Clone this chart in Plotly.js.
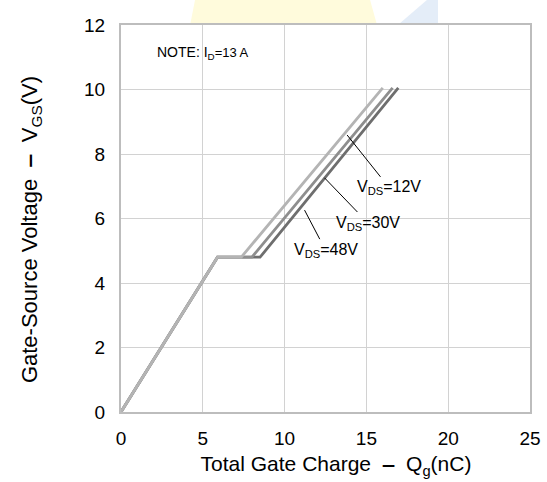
<!DOCTYPE html>
<html>
<head>
<meta charset="utf-8">
<script src="https://cdn.plot.ly/plotly-3.0.1.min.js"></script>
<style>html,body{margin:0;padding:0;background:#fff;}#chart{width:547px;height:482px;}</style>
</head>
<body>
<div id="chart"></div>
<script>
// Gate charge curves (Qg in nC, VGS in V)
const seriesNames = ["V<sub>DS</sub>=48V", "V<sub>DS</sub>=30V", "V<sub>DS</sub>=12V"];
const qg48 = [0, 5.9, 8.5, 16.95];
const vgs48 = [0, 4.8, 4.8, 10.05];
const qg30 = [0, 5.9, 8.0, 16.6];
const vgs30 = [0, 4.8, 4.8, 10.05];
const qg12 = [0, 5.9, 7.35, 16.0];
const vgs12 = [0, 4.8, 4.8, 10.05];
const lineColors = ["#6e6e6e", "#8e8e8e", "#b4b4b4"];

// label anchor points on curves and text positions (data units)
const labelTipX = [11.22, 12.44, 13.82];
const labelTipY = [6.26, 7.26, 8.59];
const labelTextX = [12.5, 15.1, 16.4];
const labelTextY = [5.02, 5.86, 6.95];

const xTicks = [0, 5, 10, 15, 20, 25];
const yTicks = [0, 2, 4, 6, 8, 10, 12];

const xs = [qg48, qg30, qg12];
const ys = [vgs48, vgs30, vgs12];
const traces = xs.map((x, i) => ({
  x: x, y: ys[i], type: "scatter", mode: "lines",
  line: {color: lineColors[i], width: 2.8},
  name: seriesNames[i], hoverinfo: "skip"
}));

const font = "Liberation Sans, Arial, sans-serif";
const annotations = seriesNames.map((t, i) => ({
  x: labelTipX[i], y: labelTipY[i], xref: "x", yref: "y",
  ax: labelTextX[i], ay: labelTextY[i], axref: "x", ayref: "y",
  text: t, showarrow: true, arrowhead: 0, arrowwidth: 1, arrowcolor: "#000",
  standoff: 0, startstandoff: 0,
  font: {family: font, size: 16, color: "#000"}
}));
annotations.push({
  x: 2.05, y: 11.13, xref: "x", yref: "y", xanchor: "left", yanchor: "middle",
  text: "NOTE: I<sub>D</sub><span style=\"font-size:13px\">=13 A</span>", showarrow: false,
  font: {family: font, size: 14, color: "#000"}
});

const nb = "\u00a0";
const pad = "<span style=\"color:rgba(255,255,255,0)\">xx</span>";
const layout = {
  width: 547, height: 482,
  margin: {l: 121, r: 17, t: 25, b: 70},
  paper_bgcolor: "#fff", plot_bgcolor: "rgba(0,0,0,0)",
  showlegend: false,
  font: {family: font, color: "#000"},
  xaxis: {
    range: [0, 25], tickvals: xTicks, ticktext: xTicks.map(String),
    showgrid: true, gridcolor: "#d2d2d2", gridwidth: 1,
    showline: true, linecolor: "#bdbdbd", linewidth: 2, mirror: true,
    zeroline: false, ticks: "", ticklabelstandoff: 8,
    tickfont: {family: font, size: 19, color: "#000"},
    title: {text: pad + "Total Gate Charge" + nb + nb + "<b>\u2012</b>" + nb + nb + "Q<sub>g</sub>(nC)", font: {family: font, size: 21, color: "#000"}, standoff: 9}
  },
  yaxis: {
    range: [0, 12], tickvals: yTicks, ticktext: yTicks.map(String),
    showgrid: true, gridcolor: "#d2d2d2", gridwidth: 1,
    showline: true, linecolor: "#bdbdbd", linewidth: 2, mirror: true,
    zeroline: false, ticks: "", ticklabelstandoff: 10,
    tickfont: {family: font, size: 19, color: "#000"},
    title: {text: "Gate-Source Voltage" + nb + nb + "<b>\u2012</b>" + nb + nb + "V<sub>GS</sub>(V)" + pad, font: {family: font, size: 22, color: "#000"}, standoff: 40}
  },
  shapes: [
    {type: "path", xref: "paper", yref: "paper", layer: "below",
     path: "M 0.169,1 L 0.181,1.0646 L 0.609,1.0646 L 0.626,1 Z",
     fillcolor: "#fffbdc", line: {width: 0}},
    {type: "path", xref: "paper", yref: "paper", layer: "below",
     path: "M 0.677,1 L 0.748,1.0646 L 0.775,1.0646 L 0.775,1 Z",
     fillcolor: "#e4edf8", line: {width: 0}}
  ],
  annotations: annotations
};

Plotly.newPlot("chart", traces, layout, {staticPlot: true, displayModeBar: false});
</script>
</body>
</html>
